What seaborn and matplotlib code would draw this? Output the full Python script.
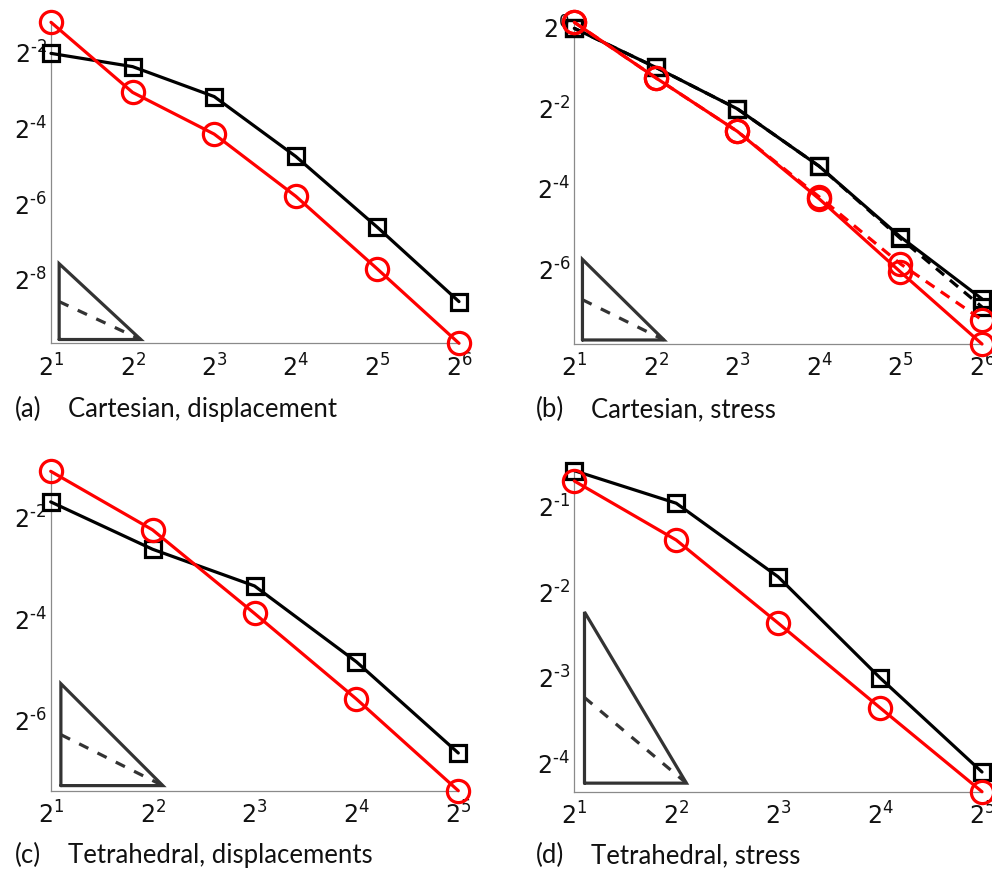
import matplotlib
matplotlib.use("Agg")
import matplotlib.pyplot as plt
import seaborn as sns
import pandas as pd

# Mesh sizes (number of elements per side) for each study
h_cart = [2, 4, 8, 16, 32, 64]
h_tet = [2, 4, 8, 16, 32]

# (a) Cartesian grid, displacement error
cart_disp_sq = [0.2415, 0.1895, 0.1096, 0.03665, 0.01003, 0.002577]
cart_disp_ci = [0.4263, 0.1183, 0.05517, 0.0177, 0.004677, 0.001202]

# (b) Cartesian grid, stress error (solid and dashed variants)
cart_str_sq = [0.9727, 0.4965, 0.2431, 0.09087, 0.02683, 0.009227]
cart_str_sq_alt = [0.9727, 0.4965, 0.2431, 0.09087, 0.0261, 0.008033]
cart_str_ci = [1.079, 0.4147, 0.165, 0.05183, 0.01468, 0.004245]
cart_str_ci_alt = [1.079, 0.4147, 0.165, 0.05366, 0.01686, 0.006434]

# (c) Tetrahedral mesh, displacement error
tet_disp_sq = [0.3035, 0.1593, 0.09672, 0.03444, 0.009958]
tet_disp_ci = [0.4601, 0.2073, 0.06651, 0.02076, 0.005962]

# (d) Tetrahedral mesh, stress error
tet_str_sq = [0.6643, 0.5105, 0.2813, 0.1241, 0.05791]
tet_str_ci = [0.6113, 0.3789, 0.1934, 0.0974, 0.04937]

# Tick exponents
x_exp_cart = [1, 2, 3, 4, 5, 6]
x_exp_tet = [1, 2, 3, 4, 5]
y_exp_a = [-2, -4, -6, -8]
y_exp_b = [0, -2, -4, -6]
y_exp_c = [-2, -4, -6]
y_exp_d = [-1, -2, -3, -4]

captions = [("(a)", "Cartesian, displacement"),
            ("(b)", "Cartesian, stress"),
            ("(c)", "Tetrahedral, displacements"),
            ("(d)", "Tetrahedral, stress")]

sns.set_style("white")
plt.rcParams["mathtext.fontset"] = "dejavusans"
plt.rcParams["font.family"] = ["DejaVu Sans"]

fig = plt.figure(figsize=(9.92, 8.78), dpi=100)

W, H = 992.0, 878.0
boxes = [(51.0, 23.3, 459.0, 344.3),
         (574.3, 23.3, 982.0, 345.0),
         (50.7, 472.3, 458.3, 791.7),
         (574.3, 471.7, 982.0, 792.7)]

RED = "#ff0000"
BLK = "#000000"
TRI = "#333333"
LW = 2.3


def pow2_label(e):
    # short hyphen for negative exponents
    if e < 0:
        return rf"$2^{{\text{{-}}{abs(e)}}}$"
    return rf"$2^{{{e}}}$"


def make_axes(box):
    x0, y0, x1, y1 = box
    return fig.add_axes([x0 / W, 1 - y1 / H, (x1 - x0) / W, (y1 - y0) / H])


def draw_series(ax, x, y, color, marker, ms, ls="-"):
    df = pd.DataFrame({"h": x, "err": y})
    sns.lineplot(data=df, x="h", y="err", ax=ax, color=color, linewidth=LW,
                 linestyle=ls, marker=marker, markersize=ms,
                 markerfacecolor="none", markeredgecolor=color,
                 markeredgewidth=LW, sort=False, estimator=None, legend=False)


def style_axes(ax, xs, x_exp, y_exp, ymin, ymax):
    ax.set_xlim(xs[0], xs[-1])
    ax.set_ylim(ymin, ymax)
    ax.set_xticks([2.0 ** e for e in x_exp])
    ax.set_xticklabels([pow2_label(e) for e in x_exp])
    ax.set_yticks([2.0 ** e for e in y_exp])
    ax.set_yticklabels([pow2_label(e) for e in y_exp])
    ax.minorticks_off()
    ax.set_xlabel("")
    ax.set_ylabel("")
    for s in ("top", "right"):
        ax.spines[s].set_visible(False)
    for s in ("left", "bottom"):
        ax.spines[s].set_color("#8a8a8a")
        ax.spines[s].set_linewidth(0.9)
        ax.spines[s].set_zorder(0.5)
    ax.tick_params(axis="both", direction="in", length=4, width=0.8,
                   color="#8a8a8a", labelsize=17, labelcolor="#111111")
    ax.tick_params(axis="x", pad=7)
    ax.tick_params(axis="y", pad=3)
    ax.patch.set_alpha(0)


def slope_triangle(ax, ymin):
    # rate-2 triangle with a rate-1 dashed reference line
    xl, xr = 2.0 ** 1.1, 2.0 ** 2.1
    yb = ymin * 2.0 ** 0.1
    ax.plot([xl, xl, xr, xl], [yb, yb * 4, yb, yb], color=TRI, lw=2.3,
            solid_joinstyle="miter", zorder=1, clip_on=False)
    ax.plot([xl, xr], [yb * 2, yb], color=TRI, lw=2.3,
            linestyle=(0, (3.2, 3.2)), zorder=1, clip_on=False)


panels = [
    (h_cart, [(cart_disp_sq, BLK, "s", "-"), (cart_disp_ci, RED, "o", "-")],
     x_exp_cart, y_exp_a),
    (h_cart, [(cart_str_sq_alt, BLK, "s", (0, (3.3, 2.4))),
              (cart_str_sq, BLK, "s", "-"),
              (cart_str_ci_alt, RED, "o", (0, (3.3, 2.4))),
              (cart_str_ci, RED, "o", "-")],
     x_exp_cart, y_exp_b),
    (h_tet, [(tet_disp_sq, BLK, "s", "-"), (tet_disp_ci, RED, "o", "-")],
     x_exp_tet, y_exp_c),
    (h_tet, [(tet_str_sq, BLK, "s", "-"), (tet_str_ci, RED, "o", "-")],
     x_exp_tet, y_exp_d),
]

for box, (xs, series, x_exp, y_exp) in zip(boxes, panels):
    ax = make_axes(box)
    ax.set_xscale("log", base=2)
    ax.set_yscale("log", base=2)
    allv = []
    for ys, col, mk, ls in series:
        ms = 11 if mk == "s" else 16
        draw_series(ax, xs, ys, col, mk, ms, ls)
        allv += ys
    for line in ax.lines:
        line.set_clip_on(False)
    ymin, ymax = min(allv), max(allv)
    slope_triangle(ax, ymin)
    style_axes(ax, xs, x_exp, y_exp, ymin, ymax)

cap_font = ["Lato", "DejaVu Sans"]
cap_pos = [(15, 68, 417), (536, 591, 417), (15, 68, 863), (536, 591, 863)]
for (tag, text), (xt, xc, yb) in zip(captions, cap_pos):
    fig.text(xt / W, 1 - yb / H, tag, fontsize=18.5, family=cap_font,
             color="#111111", va="baseline", ha="left")
    fig.text(xc / W, 1 - yb / H, text, fontsize=18.5, family=cap_font,
             color="#111111", va="baseline", ha="left")

fig.savefig("out.png", dpi=100)
